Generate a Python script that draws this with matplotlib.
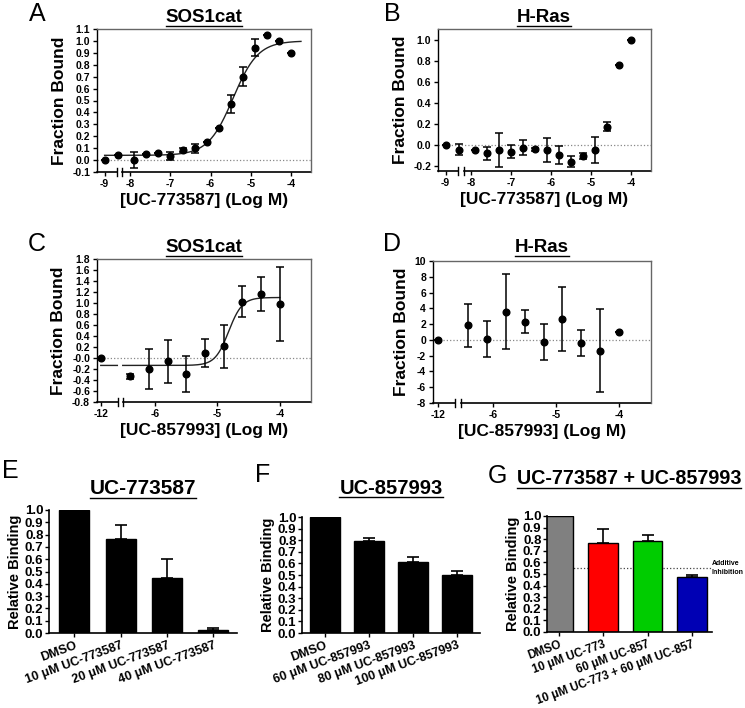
import numpy as np
import matplotlib
matplotlib.use("Agg")
import matplotlib.pyplot as plt
from matplotlib.lines import Line2D

plt.rcParams['font.family'] = ['Liberation Sans', 'DejaVu Sans']
plt.rcParams['font.weight'] = 'bold'
plt.rcParams['axes.labelweight'] = 'bold'

W, H = 745, 708

# ---- binding curves (log M); first point is the vehicle (no compound) ----
logc_773 = [-9, -8.3, -7.9, -7.6, -7.3, -7.0, -6.7, -6.4, -6.1, -5.8, -5.5, -5.2, -4.9, -4.6, -4.3, -4.0]
sos_773 = [0.0, 0.04, 0.0, 0.053, 0.062, 0.034, 0.084, 0.098, 0.154, 0.266, 0.473, 0.70, 0.944, 1.05, 1.003, 0.896]
sos_773_err = [0, 0, 0.067, 0, 0, 0.03, 0.02, 0.04, 0, 0, 0.075, 0.077, 0.074, 0, 0, 0]
ras_773 = [0.0, -0.044, -0.047, -0.076, -0.044, -0.06, -0.022, -0.038, -0.047, -0.095, -0.155, -0.10, -0.044, 0.177, 0.763, 1.0]
ras_773_err = [0, 0.052, 0, 0.063, 0.163, 0.066, 0.074, 0.015, 0.114, 0.085, 0.055, 0.03, 0.123, 0.046, 0, 0]

logc_857 = [-12, -6.4, -6.1, -5.8, -5.5, -5.2, -4.9, -4.6, -4.3, -4.0]
sos_857 = [0.0, -0.334, -0.2, -0.062, -0.286, 0.089, 0.21, 1.026, 1.159, 0.984]
sos_857_err = [0, 0.045, 0.36, 0.384, 0.326, 0.248, 0.393, 0.284, 0.305, 0.677]
ras_857 = [0.0, 1.86, 0.08, 3.59, 2.32, -0.25, 2.66, -0.38, -1.35, 1.01]
ras_857_err = [0, 2.7, 2.28, 4.77, 1.41, 2.32, 4.07, 1.67, 5.27, 0]

# fitted sigmoid parameters (bottom, top, logEC50, hill)
fit_sos_773 = (0.04, 1.0, -5.44, 1.4)
fit_sos_857 = (-0.135, 1.10, -4.82, 4.0)

# ---- bar charts ----
e_labels = ["DMSO", "10 \u03bcM UC-773587", "20 \u03bcM UC-773587", "40 \u03bcM UC-773587"]
e_vals = [1.0, 0.761, 0.448, 0.027]
e_err = [0, 0.117, 0.150, 0.016]

f_labels = ["DMSO", "60 \u03bcM UC-857993", "80 \u03bcM UC-857993", "100 \u03bcM UC-857993"]
f_vals = [1.0, 0.791, 0.614, 0.50]
f_err = [0, 0.032, 0.037, 0.034]

g_labels = ["DMSO", "10 \u03bcM UC-773", "60 \u03bcM UC-857", "10 \u03bcM UC-773 + 60 \u03bcM UC-857"]
g_vals = [1.0, 0.769, 0.787, 0.47]
g_err = [0, 0.116, 0.046, 0.02]
g_colors = ["#808080", "#ff0000", "#00cc00", "#0000b4"]
additive = 0.553


def px_axes(fig, left, top, right, bottom):
    return fig.add_axes([left / W, 1 - bottom / H, (right - left) / W, (bottom - top) / H])


def hill(x, bottom, top, ec50, h):
    return bottom + (top - bottom) / (1 + 10 ** ((ec50 - x) * h))


def curve_panel(ax, logc, y, yerr, zero_pos, xlim, brk, ylim, yticks, yfmt, xticks, xticklabels,
                xlabel, fit=None, fit_end=-4.0):
    logc = np.array(logc, dtype=float)
    pos = np.where(logc == logc.min(), zero_pos, logc)
    ax.axhline(0, color="#888888", ls=":", lw=0.9, zorder=1)
    if fit is not None:
        xs = np.linspace(zero_pos, fit_end, 400)
        ys = hill(xs, *fit)
        ys[(xs > brk[0]) & (xs < brk[1])] = np.nan
        ax.plot(xs, ys, color="#222222", lw=1.0, zorder=2)
    ax.errorbar(pos, y, yerr=yerr, fmt="o", color="black", ms=4.8, elinewidth=1.1,
                capsize=2.6, capthick=1.1, zorder=3)
    ax.set_xlim(*xlim)
    ax.set_ylim(*ylim)
    ax.set_yticks(yticks)
    ax.set_yticklabels([yfmt.format(v) for v in yticks])
    ax.set_xticks(xticks)
    ax.set_xticklabels(xticklabels)
    ax.tick_params(labelsize=7.5, length=3, width=1, pad=2)
    for s in ("top", "right"):
        ax.spines[s].set_color("#666666")
        ax.spines[s].set_linewidth(1)
    ax.spines["left"].set_linewidth(1)
    ax.spines["bottom"].set_visible(False)
    tr = ax.get_xaxis_transform()
    ax.plot([xlim[0], brk[0]], [0, 0], color="black", lw=1.2, transform=tr, clip_on=False)
    ax.plot([brk[1], xlim[1]], [0, 0], color="black", lw=1.2, transform=tr, clip_on=False)
    for b in brk:
        ax.plot([b, b], [-0.025, 0.025], color="black", lw=1, transform=tr, clip_on=False)
    ax.set_xlabel(xlabel, fontsize=12.5, labelpad=3)
    ax.set_ylabel("Fraction Bound", fontsize=12.5, labelpad=4)


def bar_panel(ax, labels, vals, err, xlim, colors, width, label_size=9):
    x = np.arange(len(vals))
    ax.bar(x, vals, width=width, color=colors, edgecolor="black", linewidth=1, zorder=2)
    ax.errorbar(x, vals, yerr=[np.zeros(len(err)), err], fmt="none", ecolor="black",
                elinewidth=1.2, capsize=4, capthick=1.2, zorder=1)
    ax.set_xlim(*xlim)
    ax.set_ylim(0, 1.0)
    ticks = np.round(np.arange(0, 1.01, 0.1), 1)
    ax.set_yticks(ticks)
    ax.set_yticklabels(["{:.1f}".format(v) for v in ticks])
    ax.set_xticks(x)
    ax.set_xticklabels(labels, rotation=20, ha="right", rotation_mode="anchor", fontsize=label_size)
    ax.tick_params(axis="y", labelsize=9.5, length=3, width=1, pad=1)
    ax.tick_params(axis="x", length=3, width=1, pad=1.5)
    for s in ("top", "right"):
        ax.spines[s].set_visible(False)
    ax.spines["left"].set_linewidth(1.2)
    ax.spines["bottom"].set_linewidth(1.2)
    ax.set_ylabel("Relative Binding", fontsize=10.5, labelpad=2)


fig = plt.figure(figsize=(W / 100, H / 100), dpi=100)

axA = px_axes(fig, 97, 29, 311, 172)
curve_panel(axA, logc_773, sos_773, sos_773_err, -8.64, (-8.83, -3.5), (-8.33, -8.21),
            (-0.1, 1.1), np.round(np.arange(-0.1, 1.11, 0.1), 1), "{:.1f}",
            [-8.64, -8, -7, -6, -5, -4], ["-9", "-8", "-7", "-6", "-5", "-4"],
            "[UC-773587] (Log M)", fit=fit_sos_773, fit_end=-3.75)

axB = px_axes(fig, 438, 29, 651, 171)
curve_panel(axB, logc_773, ras_773, ras_773_err, -8.64, (-8.83, -3.5), (-8.32, -8.18),
            (-0.245, 1.105), np.round(np.arange(-0.2, 1.01, 0.2), 1), "{:.1f}",
            [-8.64, -8, -7, -6, -5, -4], ["-9", "-8", "-7", "-6", "-5", "-4"],
            "[UC-773587] (Log M)")

axC = px_axes(fig, 97, 259, 311, 402)
curve_panel(axC, logc_857, sos_857, sos_857_err, -6.87, (-6.93, -3.5), (-6.6, -6.52),
            (-0.8, 1.8), np.round(np.arange(-0.8, 1.81, 0.2), 1), "{:.1f}",
            [-6.87, -6, -5, -4], ["-12", "-6", "-5", "-4"],
            "[UC-857993] (Log M)", fit=fit_sos_857, fit_end=-4.0)

axD = px_axes(fig, 433, 261, 651, 403)
curve_panel(axD, logc_857, ras_857, ras_857_err, -6.88, (-6.96, -3.49), (-6.61, -6.52),
            (-8, 10), np.arange(-8, 11, 2), "{:d}",
            [-6.88, -6, -5, -4], ["-12", "-6", "-5", "-4"],
            "[UC-857993] (Log M)")

axE = px_axes(fig, 49, 510, 237, 633)
bar_panel(axE, e_labels, e_vals, e_err, (-0.546, 3.51), "black", 0.65)

axF = px_axes(fig, 302, 517, 480, 633)
bar_panel(axF, f_labels, f_vals, f_err, (-0.51, 3.51), "black", 0.68)

axG = px_axes(fig, 547, 516, 712, 632)
bar_panel(axG, g_labels, g_vals, g_err, (-0.26, 3.45), g_colors, 0.67, label_size=8.4)
axG.axhline(additive, color="#444444", ls=":", lw=0.9, zorder=0)
axG.text(1.0, additive, "Additive\nInhibition", transform=axG.get_yaxis_transform(),
         fontsize=5, ha="left", va="center", linespacing=1.3)


def ftext(x, y, s, **kw):
    return fig.text(x / W, 1 - y / H, s, **kw)


for letter, x, y in [("A", 37, 14), ("B", 392, 14), ("C", 37, 244), ("D", 392, 244),
                     ("E", 10, 471), ("F", 263, 475), ("G", 497, 476)]:
    ftext(x, y, letter, fontsize=18, fontweight="normal", ha="center", va="center")

titles = [("SOS1cat", 204, 18, 13.5), ("H-Ras", 544, 18, 13.5), ("SOS1cat", 204, 248, 13.5),
          ("H-Ras", 542, 248, 13.5), ("UC-773587", 143, 489, 15), ("UC-857993", 391, 488, 14.5),
          ("UC-773587 + UC-857993", 629, 479, 14.2)]
title_artists = [ftext(x, y, s, fontsize=fs, ha="center", va="center") for s, x, y, fs in titles]

renderer = fig.canvas.get_renderer()
inv = fig.transFigure.inverted()
for t in title_artists:
    bb = t.get_window_extent(renderer)
    (x0, y0), (x1, _) = inv.transform([(bb.x0, bb.y0), (bb.x1, bb.y1)])
    fig.add_artist(Line2D([x0, x1], [y0 + 0.5 / H, y0 + 0.5 / H], color="black", lw=1,
                          transform=fig.transFigure))

fig.savefig("out.png", dpi=100)
